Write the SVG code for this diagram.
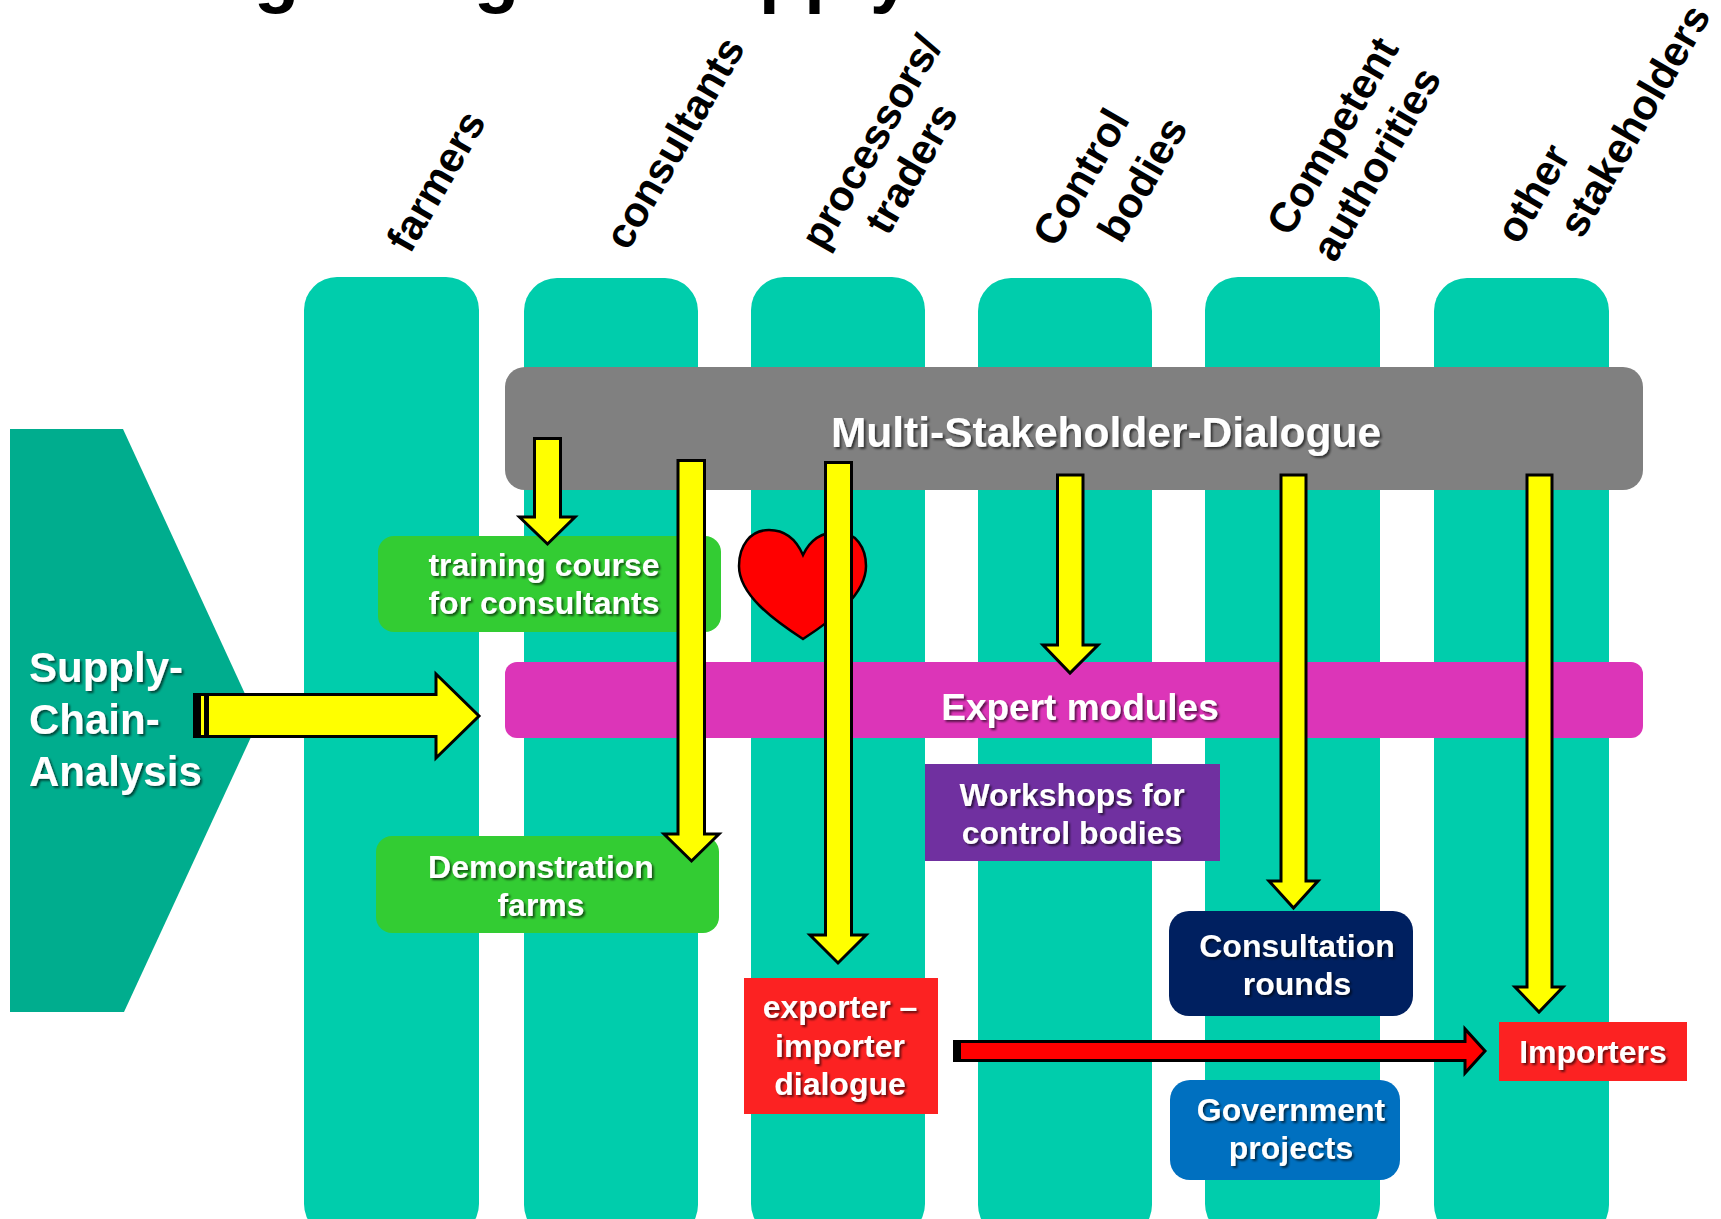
<svg xmlns="http://www.w3.org/2000/svg" width="1721" height="1219" viewBox="0 0 1721 1219">
<defs>
<filter id="sh" x="-10%" y="-20%" width="120%" height="140%"><feDropShadow dx="2" dy="2" stdDeviation="1.2" flood-color="#000" flood-opacity="0.6"/></filter>
</defs>
<style>
text{font-family:"Liberation Sans",Arial,sans-serif;font-weight:700}
.col{fill:#00CDAC}
.lab{fill:#000;font-size:42px}
.w{fill:#fff;filter:url(#sh);font-size:32px;text-anchor:middle}
.title{fill:#000;font-size:74px}
.ya{fill:#FF0;stroke:#000;stroke-width:3;stroke-linejoin:miter}
.ra{fill:#F00;stroke:#000;stroke-width:3;stroke-linejoin:miter}
.bk{fill:#000}
</style>
<rect width="1721" height="1219" fill="#fff"/>
<g id="title"><text class="title" x="254" y="-1.5">g</text><text class="title" x="474" y="-1.5">g</text><text class="title" x="759" y="-1.5">pply</text></g>
<g id="col-farmers"><rect class="col" x="304" y="277" width="175" height="960" rx="33"/><text class="lab" transform="translate(410 255) rotate(-60)">farmers</text></g>
<g id="col-consultants"><rect class="col" x="524" y="278" width="174" height="960" rx="33"/><text class="lab" transform="translate(628 252) rotate(-60)">consultants</text></g>
<g id="col-processors"><rect class="col" x="751" y="277" width="174" height="960" rx="33"/><text class="lab" transform="translate(824 252) rotate(-60)">processors/</text><text class="lab" transform="translate(888 237) rotate(-60)">traders</text></g>
<g id="col-control"><rect class="col" x="978" y="278" width="174" height="960" rx="33"/><text class="lab" transform="translate(1056 249) rotate(-60)">Control</text><text class="lab" transform="translate(1121 245) rotate(-60)">bodies</text></g>
<g id="col-competent"><rect class="col" x="1205" y="277" width="175" height="960" rx="33"/><text class="lab" transform="translate(1290 238) rotate(-60)">Competent</text><text class="lab" transform="translate(1335 264) rotate(-60)">authorities</text></g>
<g id="col-other"><rect class="col" x="1434" y="278" width="175" height="960" rx="33"/><text class="lab" transform="translate(1519 246) rotate(-60)">other</text><text class="lab" transform="translate(1582 240) rotate(-60)">stakeholders</text></g>
<g id="supply-chain"><polygon points="10,429 123,429 258,722 124,1012 10,1012" fill="#00AD8E"/><g style="font-size:42px"><text x="29" y="682" fill="#fff" filter="url(#sh)">Supply-</text><text x="29" y="734" fill="#fff" filter="url(#sh)">Chain-</text><text x="29" y="786" fill="#fff" filter="url(#sh)">Analysis</text></g></g>
<g id="multi-stakeholder"><rect x="505" y="367" width="1138" height="123" rx="20" fill="#808080"/><text class="w" x="1106" y="447" style="font-size:42.5px">Multi-Stakeholder-Dialogue</text></g>
<g id="expert-modules"><rect x="505" y="662" width="1138" height="76" rx="12" fill="#DC35B8"/><text class="w" x="1080" y="720" style="font-size:37px">Expert modules</text></g>
<g id="training"><rect x="378" y="536" width="343" height="96" rx="16" fill="#33CC33"/><text class="w" x="544" y="576">training course</text><text class="w" x="544" y="614">for consultants</text></g>
<g id="demonstration"><rect x="376" y="836" width="343" height="97" rx="16" fill="#33CC33"/><text class="w" x="541" y="878">Demonstration</text><text class="w" x="541" y="916">farms</text></g>
<g id="heart"><path d="M803 555C796 539 784 530 769 530C750 530 739 546 739 566C739 594 772 619 803 639C834 619 866 594 866 566C866 548 856 532 838 532C822 532 810 540 803 555Z" fill="#F00" stroke="#000" stroke-width="2.5"/></g>
<g id="workshops"><rect x="925" y="764" width="295" height="97" fill="#7030A0"/><text class="w" x="1072" y="806">Workshops for</text><text class="w" x="1072" y="844">control bodies</text></g>
<g id="consultation"><rect x="1169" y="911" width="244" height="105" rx="20" fill="#002060"/><text class="w" x="1297" y="957">Consultation</text><text class="w" x="1297" y="995">rounds</text></g>
<g id="government"><rect x="1170" y="1080" width="230" height="100" rx="20" fill="#0070C0"/><text class="w" x="1291" y="1121">Government</text><text class="w" x="1291" y="1159">projects</text></g>
<g id="exporter"><rect x="744" y="978" width="194" height="136" fill="#FC2222"/><text class="w" x="840" y="1018">exporter –</text><text class="w" x="840" y="1057">importer</text><text class="w" x="840" y="1095">dialogue</text></g>
<g id="importers"><rect x="1499" y="1022" width="188" height="59" fill="#FC2222"/><text class="w" x="1593" y="1063">Importers</text></g>
<g id="connectors">
<polygon class="ya" points="194.500,694.500 436,694.500 436,674 479,716 436,758 436,736.500 194.500,736.500"/>
<rect class="bk" x="193" y="693" width="8" height="45"/><rect class="bk" x="204" y="693" width="5" height="45"/>
<polygon class="ya" points="534.500,438.500 560.500,438.500 560.500,517 575,517 547.500,544 519.500,517 534.500,517"/>
<polygon class="ya" points="678,460.500 704.500,460.500 704.500,834 719,834 691.500,861 664,834 678,834"/>
<polygon class="ya" points="825.500,462.500 851.500,462.500 851.500,935 866,935 838,963 810,935 825.500,935"/>
<polygon class="ya" points="1057.500,475 1083,475 1083,645 1098,645 1070,673 1043,645 1057.500,645"/>
<polygon class="ya" points="1281,475 1306,475 1306,881 1318,881 1293.500,908 1269,881 1281,881"/>
<polygon class="ya" points="1527,475 1552,475 1552,987 1563,987 1539,1012 1515,987 1527,987"/>
<polygon class="ra" points="954.500,1041.500 1465,1041.500 1465,1029 1485,1051 1465,1073 1465,1060.500 954.500,1060.500"/>
<rect class="bk" x="953" y="1040" width="8" height="22"/>
</g>
</svg>
